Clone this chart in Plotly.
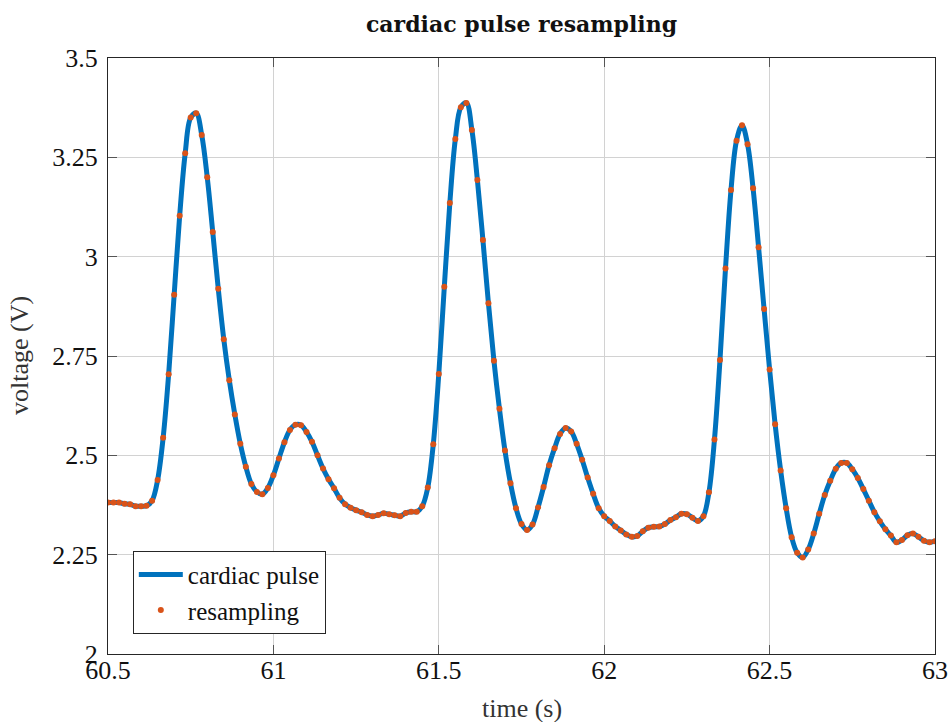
import plotly.graph_objects as go

# resampled at 60 Hz from t = 60.5 s
t_start = 60.5
fs = 60
voltage = [
    2.381, 2.381, 2.381, 2.378, 2.377, 2.372, 2.372, 2.373, 2.386, 2.438,
    2.544, 2.704, 2.904, 3.103, 3.260, 3.350, 3.361, 3.306, 3.200, 3.062,
    2.919, 2.792, 2.689, 2.603, 2.529, 2.471, 2.428, 2.408, 2.402, 2.418,
    2.450, 2.492, 2.533, 2.564, 2.577, 2.576, 2.559, 2.534, 2.500, 2.467,
    2.440, 2.417, 2.393, 2.377, 2.368, 2.362, 2.357, 2.350, 2.347, 2.350,
    2.354, 2.352, 2.349, 2.347, 2.355, 2.358, 2.358, 2.372, 2.419, 2.528,
    2.705, 2.924, 3.135, 3.296, 3.376, 3.387, 3.319, 3.193, 3.042, 2.883,
    2.738, 2.617, 2.512, 2.430, 2.367, 2.327, 2.312, 2.326, 2.369, 2.420,
    2.475, 2.518, 2.554, 2.569, 2.560, 2.529, 2.489, 2.444, 2.403, 2.367,
    2.347, 2.335, 2.321, 2.311, 2.301, 2.295, 2.297, 2.309, 2.318, 2.320,
    2.321, 2.327, 2.337, 2.344, 2.353, 2.352, 2.343, 2.335, 2.347, 2.407,
    2.540, 2.740, 2.970, 3.168, 3.292, 3.331, 3.283, 3.172, 3.024, 2.868,
    2.716, 2.578, 2.462, 2.367, 2.294, 2.255, 2.243, 2.263, 2.303, 2.353,
    2.400, 2.436, 2.466, 2.481, 2.481, 2.465, 2.443, 2.415, 2.386, 2.357,
    2.334, 2.314, 2.298, 2.281, 2.287, 2.299, 2.303, 2.295, 2.285, 2.281,
    2.284,
]
time = [t_start + k / fs for k in range(len(voltage))]

x_ticks = [60.5, 61, 61.5, 62, 62.5, 63]
x_tick_text = ["60.5", "61", "61.5", "62", "62.5", "63"]
y_ticks = [2, 2.25, 2.5, 2.75, 3, 3.25, 3.5]
y_tick_text = ["2", "2.25", "2.5", "2.75", "3", "3.25", "3.5"]

FONT = "Liberation Serif"
TITLE_FONT = "DejaVu Serif"

fig = go.Figure()
fig.add_trace(go.Scatter(
    x=time, y=voltage, mode="lines", name="cardiac pulse",
    line=dict(color="#0072BD", width=5, shape="spline"),
))
fig.add_trace(go.Scatter(
    x=time, y=voltage, mode="markers", name="resampling",
    marker=dict(color="#D95319", size=6),
))

axis_common = dict(
    showgrid=True, gridcolor="#d2d2d2", gridwidth=1,
    showline=True, linecolor="#262626", linewidth=1.3, mirror="ticks",
    ticks="inside", ticklen=9, tickcolor="#555555", tickwidth=1,
    zeroline=False, automargin=False,
    tickfont=dict(family=FONT, size=26, color="#111111"),
)

fig.update_layout(
    width=950, height=722,
    margin=dict(l=108, r=15, t=58, b=68),
    paper_bgcolor="white", plot_bgcolor="white",
    title=dict(text="<b>cardiac pulse resampling</b>", xref="paper", x=0.5,
               xanchor="center", yref="container", y=1 - 24 / 722,
               yanchor="middle",
               font=dict(family=TITLE_FONT, size=22, color="#111111")),
    xaxis=dict(range=[60.5, 63], tickvals=x_ticks, ticktext=x_tick_text,
               ticklabelstandoff=-7, **axis_common),
    yaxis=dict(range=[2, 3.5], tickvals=y_ticks, ticktext=y_tick_text,
               ticklabelstandoff=4, **axis_common),
    legend=dict(x=0.030, y=0.034, xanchor="left", yanchor="bottom",
                bgcolor="white", bordercolor="#262626", borderwidth=1,
                font=dict(family=FONT, size=25, color="#111111"),
                itemwidth=44, tracegroupgap=0),
    showlegend=True,
    annotations=[
        dict(text="time (s)", xref="paper", yref="paper", x=0.5, y=0,
             xanchor="center", yanchor="middle", yshift=-54, showarrow=False,
             font=dict(family=FONT, size=26, color="#333333")),
        dict(text="voltage (V)", xref="paper", yref="paper", x=0, y=0.5,
             xanchor="center", yanchor="middle", xshift=-89, textangle=-90,
             showarrow=False,
             font=dict(family=FONT, size=26, color="#333333")),
    ],
)

fig.write_html("out.html")
